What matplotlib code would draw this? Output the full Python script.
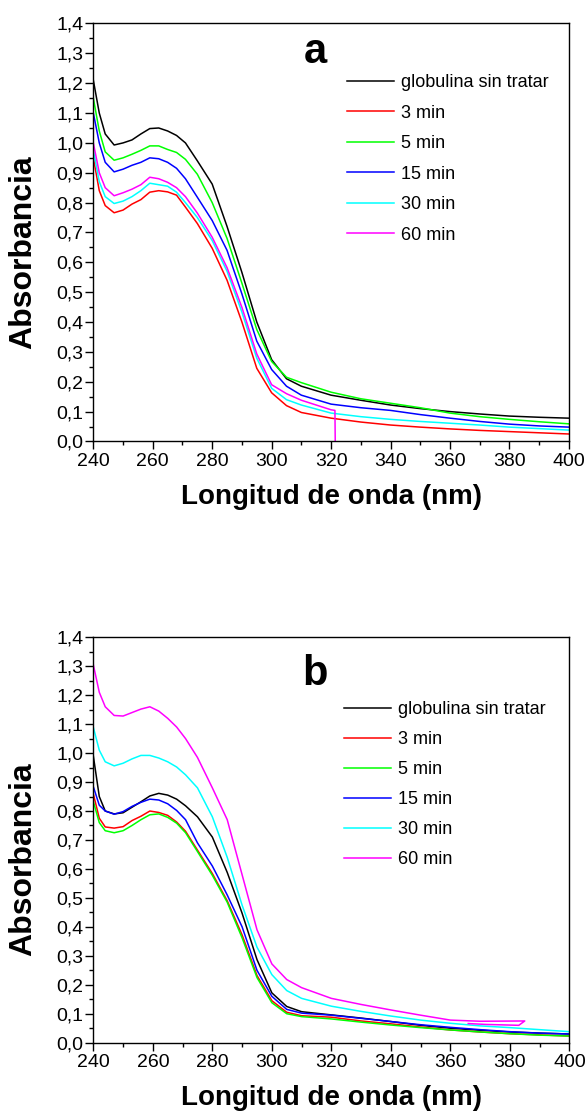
import matplotlib
matplotlib.use("Agg")
import matplotlib.pyplot as plt
from matplotlib.ticker import MultipleLocator, FuncFormatter

plt.rcParams['font.family'] = ['Liberation Sans', 'DejaVu Sans']

# wavelength grid (nm) shared by most curves
wl = [240, 242, 244, 247, 250, 253, 256, 259, 262, 265, 268, 271, 275, 280, 285,
      290, 295, 300, 305, 310, 320, 330, 340, 350, 360, 370, 380, 390, 400]

labels = ["globulina sin tratar", "3 min", "5 min", "15 min", "30 min", "60 min"]
colors = ["#000000", "#ff0000", "#00ff00", "#0000ff", "#00ffff", "#ff00ff"]

# panel a
a_control = [1.21, 1.10, 1.03, 0.993, 1.00, 1.01, 1.03, 1.048, 1.05, 1.04, 1.025, 1.00, 0.94, 0.862, 0.72,
             0.566, 0.40, 0.274, 0.21, 0.185, 0.155, 0.138, 0.122, 0.11, 0.10, 0.092, 0.085, 0.081, 0.078]
a_3 = [0.95, 0.84, 0.79, 0.766, 0.775, 0.795, 0.81, 0.835, 0.84, 0.836, 0.825, 0.785, 0.73, 0.647, 0.54,
       0.40, 0.245, 0.163, 0.12, 0.097, 0.078, 0.065, 0.055, 0.048, 0.042, 0.037, 0.033, 0.029, 0.025]
a_5 = [1.15, 1.04, 0.97, 0.942, 0.95, 0.962, 0.975, 0.99, 0.99, 0.978, 0.968, 0.945, 0.895, 0.80, 0.68,
       0.53, 0.375, 0.268, 0.215, 0.197, 0.165, 0.143, 0.128, 0.113, 0.095, 0.083, 0.074, 0.066, 0.059]
a_15 = [1.10, 1.00, 0.935, 0.903, 0.912, 0.925, 0.935, 0.95, 0.947, 0.935, 0.915, 0.88, 0.818, 0.74, 0.64,
        0.494, 0.336, 0.241, 0.185, 0.155, 0.125, 0.113, 0.104, 0.09, 0.078, 0.067, 0.058, 0.052, 0.048]
a_30 = [0.975, 0.87, 0.82, 0.797, 0.805, 0.82, 0.84, 0.865, 0.86, 0.855, 0.835, 0.80, 0.75, 0.673, 0.57,
        0.433, 0.279, 0.178, 0.14, 0.122, 0.095, 0.083, 0.074, 0.067, 0.061, 0.055, 0.048, 0.043, 0.038]
# 60 min curve stops near 321 nm and drops off the axis
a_60_wl = [240, 242, 244, 247, 250, 253, 256, 259, 262, 265, 268, 271, 275, 280, 285,
           290, 295, 300, 305, 310, 320, 321.3, 321.6]
a_60 = [1.00, 0.90, 0.85, 0.823, 0.833, 0.845, 0.86, 0.885, 0.88, 0.868, 0.85, 0.82, 0.765, 0.684, 0.582,
        0.449, 0.293, 0.19, 0.16, 0.138, 0.106, 0.104, -0.2]

# panel b
b_control = [0.99, 0.85, 0.80, 0.79, 0.794, 0.813, 0.832, 0.852, 0.861, 0.855, 0.841, 0.818, 0.78, 0.71, 0.588,
             0.447, 0.287, 0.172, 0.125, 0.107, 0.096, 0.085, 0.073, 0.06, 0.05, 0.043, 0.037, 0.033, 0.03]
b_3 = [0.859, 0.775, 0.745, 0.741, 0.746, 0.767, 0.782, 0.80, 0.795, 0.785, 0.762, 0.73, 0.665, 0.584, 0.49,
       0.372, 0.232, 0.145, 0.105, 0.093, 0.088, 0.075, 0.065, 0.054, 0.044, 0.037, 0.031, 0.027, 0.023]
b_5 = [0.833, 0.76, 0.732, 0.725, 0.732, 0.75, 0.77, 0.787, 0.79, 0.778, 0.758, 0.725, 0.66, 0.578, 0.485,
       0.362, 0.225, 0.138, 0.10, 0.09, 0.082, 0.071, 0.061, 0.052, 0.044, 0.037, 0.031, 0.026, 0.023]
b_15 = [0.884, 0.82, 0.80, 0.789, 0.798, 0.816, 0.83, 0.841, 0.838, 0.825, 0.802, 0.77, 0.69, 0.61, 0.51,
        0.40, 0.25, 0.16, 0.115, 0.102, 0.095, 0.084, 0.073, 0.062, 0.053, 0.045, 0.038, 0.033, 0.03]
b_30 = [1.089, 1.01, 0.97, 0.956, 0.965, 0.98, 0.992, 0.992, 0.983, 0.97, 0.952, 0.925, 0.88, 0.78, 0.64,
        0.475, 0.33, 0.235, 0.18, 0.153, 0.126, 0.108, 0.092, 0.078, 0.067, 0.058, 0.052, 0.045, 0.038]
# 60 min curve folds back on itself near 385 nm
b_60_wl = [240, 242, 244, 247, 250, 253, 256, 259, 262, 265, 268, 271, 275, 280, 285,
           290, 295, 300, 305, 310, 320, 330, 340, 350, 360, 370, 385, 383, 372, 366]
b_60 = [1.305, 1.21, 1.16, 1.13, 1.128, 1.14, 1.152, 1.16, 1.145, 1.12, 1.09, 1.05, 0.985, 0.88, 0.77,
        0.58, 0.39, 0.272, 0.218, 0.19, 0.153, 0.132, 0.113, 0.095, 0.078, 0.074, 0.075, 0.06, 0.063, 0.066]

comma = FuncFormatter(lambda v, p: f"{v:.1f}".replace(".", ","))


def draw_panel(ax, series, letter, letter_y, leg_anchor, leg_space, xlab_y):
    for (x, y), lab, c in zip(series, labels, colors):
        ax.plot(x, y, color=c, lw=1.1, label=lab)
    ax.set_xlim(240, 400)
    ax.set_ylim(0, 1.4)
    ax.xaxis.set_major_locator(MultipleLocator(20))
    ax.xaxis.set_minor_locator(MultipleLocator(10))
    ax.yaxis.set_major_locator(MultipleLocator(0.1))
    ax.yaxis.set_minor_locator(MultipleLocator(0.05))
    ax.yaxis.set_major_formatter(comma)
    ax.tick_params(which='major', direction='out', length=5.5, width=1, labelsize=14)
    ax.tick_params(axis='y', which='major', pad=1.5)
    ax.tick_params(axis='x', which='major', pad=3)
    ax.tick_params(which='minor', direction='out', length=3, width=1)
    for s in ax.spines.values():
        s.set_linewidth(1.0)
    ax.set_ylabel("Absorbancia", fontsize=23, fontweight='bold')
    ax.yaxis.set_label_coords(-0.116, 0.453)
    ax.set_xlabel("Longitud de onda (nm)", fontsize=20, fontweight='bold')
    ax.xaxis.set_label_coords(0.5, xlab_y)
    ax.text(0.466, letter_y, letter, transform=ax.transAxes, fontsize=30,
            fontweight='bold', ha='center', va='baseline')
    ax.legend(loc='upper left', bbox_to_anchor=leg_anchor, frameon=False,
              fontsize=13, handlelength=2.6, handletextpad=0.4, labelspacing=leg_space,
              borderpad=0, borderaxespad=0)


fig = plt.figure(figsize=(5.87, 11.19), dpi=100)
ax_a = fig.add_axes([0.159, 0.6055, 0.81, 0.3735])
ax_b = fig.add_axes([0.159, 0.0682, 0.811, 0.3623])

draw_panel(ax_a, [(wl, a_control), (wl, a_3), (wl, a_5), (wl, a_15), (wl, a_30), (a_60_wl, a_60)],
           "a", 0.905, (0.534, 0.879), 0.75, -0.101)
draw_panel(ax_b, [(wl, b_control), (wl, b_3), (wl, b_5), (wl, b_15), (wl, b_30), (b_60_wl, b_60)],
           "b", 0.882, (0.527, 0.843), 0.72, -0.104)

fig.savefig("out.png", dpi=100)
